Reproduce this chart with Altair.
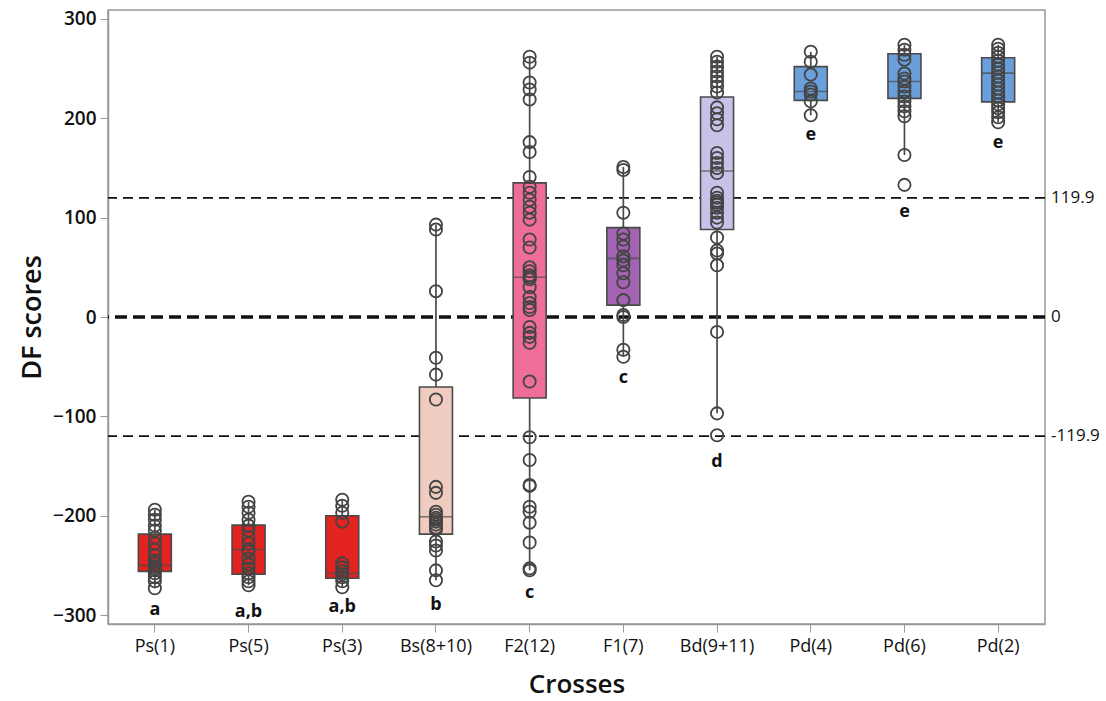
import altair as alt
import pandas as pd

crosses = ["Ps(1)", "Ps(5)", "Ps(3)", "Bs(8+10)", "F2(12)", "F1(7)", "Bd(9+11)", "Pd(4)", "Pd(6)", "Pd(2)"]
box_q3 = [-218.5, -209.5, -200, -70.5, 135, 90, 221.5, 252, 265, 261]
box_median = [-250, -234, -258, -201, 40, 59, 147, 227, 237, 245.5]
box_q1 = [-256, -259, -263, -218.5, -81.5, 12, 88, 218, 220, 216.5]
whisker_hi = [-194, -186, -184, 93, 262, 151, 262, 267, 274, 274]
whisker_lo = [-273, -270, -272, -265, -255, -40, -97, 203, 163, 196]
box_colors = ["#E3231F", "#E3231F", "#E3231F", "#EFCBC0", "#EE6E97", "#A263B3", "#C7C2E8", "#6A9FDC", "#6A9FDC", "#6A9FDC"]
letters = ["a", "a,b", "a,b", "b", "c", "c", "d", "e", "e", "e"]
letter_pos = [-295, -297, -292, -290, -278, -61, -146, 183, 106, 175]

ps1_pts = [-194, -199, -204, -210, -215, -222, -228, -234, -240, -245, -248, -251, -253, -255, -258, -262, -266, -273]
ps5_pts = [-186, -191, -197, -204, -210, -215, -222, -228, -234, -236, -243, -249, -253, -258, -262, -266, -270]
ps3_pts = [-184, -190, -197, -206, -248, -252, -256, -259, -262, -266, -272]
bs_pts = [93, 88, 26, -41, -58, -83, -171, -177, -196, -199, -202, -204, -206, -209, -212, -214, -226, -230, -235, -255, -265]
f2_pts = [262, 256, 236, 229, 219, 176, 166, 141, 131, 125, 118, 111, 105, 98, 78, 70, 50, 46, 42, 40, 38, 30, 20, 14,
          10, 7, -10, -16, -20, -26, -65, -121, -144, -169, -170, -191, -196, -207, -227, -253, -255]
f1_pts = [151, 148, 105, 84, 78, 71, 61, 57, 52, 44, 35, 17, 2, 0, -33, -40]
bd_pts = [262, 257, 252, 247, 242, 237, 232, 226, 211, 205, 199, 193, 165, 160, 155, 150, 145, 125, 120, 117, 115,
          113, 110, 105, 100, 95, 80, 67, 64, 52, -15, -97, -119]
pd4_pts = [267, 257, 244, 230, 227, 224, 217, 203]
pd6_pts = [274, 269, 264, 259, 245, 240, 237, 232, 227, 222, 217, 212, 207, 202, 163, 133]
pd2_pts = [274, 270, 266, 262, 258, 254, 250, 246, 242, 238, 234, 230, 226, 222, 218, 214, 210, 206, 201, 196]

ref_values = [119.9, 0, -119.9]
ref_labels = ["119.9", "0", "-119.9"]

all_pts = [ps1_pts, ps5_pts, ps3_pts, bs_pts, f2_pts, f1_pts, bd_pts, pd4_pts, pd6_pts, pd2_pts]

summary = pd.DataFrame({
    "cross": crosses, "q1": box_q1, "q3": box_q3, "median": box_median,
    "lo": whisker_lo, "hi": whisker_hi, "letter": letters, "letter_y": letter_pos,
})
points = pd.DataFrame(
    [{"cross": c, "v": v} for c, pts in zip(crosses, all_pts) for v in pts]
)
refs = pd.DataFrame({"v": ref_values, "label": ref_labels})

W, H = 937, 614
FONT = "Open Sans"

x_enc = alt.X("cross:N", sort=crosses, title="Crosses",
              scale=alt.Scale(domain=crosses, paddingInner=0, paddingOuter=0),
              axis=alt.Axis(labelAngle=0, labelFontSize=18, labelPadding=5, tickSize=8,
                            titleFontSize=26, titleX=W / 2, titleY=60, titleBaseline="middle"))
y_scale = alt.Scale(domain=[-309, 309], nice=False, zero=False)
y_axis = alt.Axis(values=[-300, -200, -100, 0, 100, 200, 300], labelFontSize=19, labelFontWeight=600,
                  labelPadding=4, tickSize=8,
                  titleFontSize=27, titleX=-76, titleY=H / 2, titleAngle=-90, titleAlign="center",
                  titleBaseline="middle", grid=False)

base = alt.Chart(summary)

lines_thin = alt.Chart(refs).transform_filter("datum.v != 0").mark_rule(
    color="#111", strokeWidth=1.6, strokeDash=[10, 6]
).encode(y=alt.Y("v:Q", scale=y_scale, axis=y_axis, title="DF scores"))

line_zero = alt.Chart(refs).transform_filter("datum.v == 0").mark_rule(
    color="#111", strokeWidth=3.5, strokeDash=[12, 6]
).encode(y=alt.Y("v:Q", scale=y_scale))

ref_text = alt.Chart(refs).mark_text(
    align="left", baseline="middle", fontSize=17, font=FONT, color="#111"
).encode(x=alt.value(W + 6), y=alt.Y("v:Q", scale=y_scale), text="label:N")

whiskers = base.mark_rule(color="#4a4a4a", strokeWidth=1.7).encode(
    x=x_enc, y=alt.Y("lo:Q", scale=y_scale), y2="hi:Q"
)

boxes = base.mark_bar(size=33, stroke="#4a4a4a", strokeWidth=1.6).encode(
    x=x_enc, y=alt.Y("q1:Q", scale=y_scale), y2="q3:Q",
    color=alt.Color("cross:N", scale=alt.Scale(domain=crosses, range=box_colors), legend=None),
)

medians = base.mark_tick(size=33, thickness=1.6, color="#4a4a4a").encode(
    x=x_enc, y=alt.Y("median:Q", scale=y_scale)
)

circles = alt.Chart(points).mark_point(
    shape="circle", size=150, filled=False, stroke="#444", strokeWidth=1.8, opacity=1
).encode(x=x_enc, y=alt.Y("v:Q", scale=y_scale))

letter_text = base.mark_text(
    fontSize=18, fontWeight="bold", font=FONT, color="#111", baseline="middle"
).encode(x=x_enc, y=alt.Y("letter_y:Q", scale=y_scale), text="letter:N")

chart = alt.layer(
    lines_thin, line_zero, whiskers, boxes, medians, circles, letter_text, ref_text
).properties(
    width=W, height=H,
    padding={"left": 108, "top": 10, "right": 61, "bottom": 77},
    autosize=alt.AutoSizeParams(type="none"),
    background="white",
).configure_view(
    stroke="#999", strokeWidth=1.5
).configure_axis(
    labelFont=FONT, titleFont=FONT, labelColor="#111", titleColor="#111",
    titleFontWeight=600, domainColor="#999", tickColor="#999", domainWidth=1.5,
)

chart.save("out.html", embed_options={"renderer": "svg", "actions": False})
